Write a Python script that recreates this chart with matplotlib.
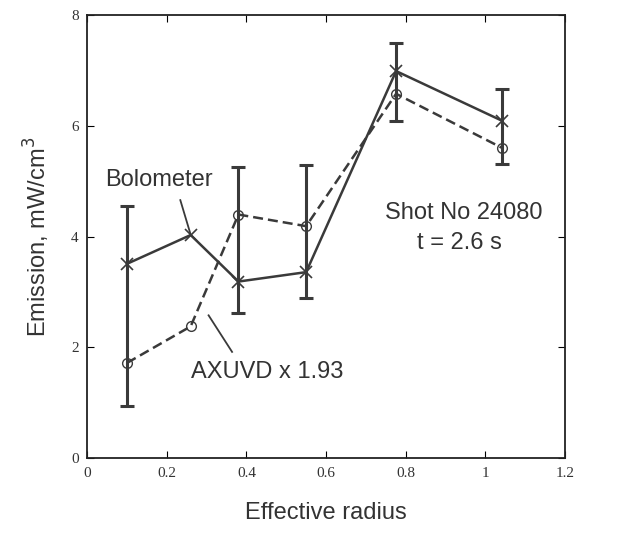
import numpy as np
import matplotlib
matplotlib.use("Agg")
import matplotlib.pyplot as plt

# values
radius = [0.10, 0.26, 0.38, 0.55, 0.776, 1.043]
bolometer = [3.51, 4.03, 3.19, 3.36, 6.99, 6.09]
axuvd = [1.72, 2.38, 4.40, 4.19, 6.58, 5.60]

# error bars drawn on the bolometer points (no bar at r=0.26)
err_r = [0.10, 0.38, 0.55, 0.776, 1.043]
err_top = [4.55, 5.26, 5.29, 7.50, 6.67]
err_bottom = [0.94, 2.63, 2.89, 6.08, 5.31]

x_ticks = [0, 0.2, 0.4, 0.6, 0.8, 1, 1.2]
x_ticklabels = ['0', '0.2', '0.4', '0.6', '0.8', '1', '1.2']
y_ticks = [0, 2, 4, 6, 8]


def main():
    fig = plt.figure(figsize=(6.27, 5.41), dpi=100)
    ax = fig.add_axes([0.139, 0.153, 0.762, 0.819])

    ink = '#3a3a3a'
    sans = 'Liberation Sans'

    ax.plot(radius, bolometer, '-', color=ink, lw=1.8, marker='x', ms=8, mew=1.2)
    ax.plot(radius, axuvd, '--', color=ink, lw=1.8, marker='o', ms=7,
            mfc='none', mew=1.0, dashes=(4, 2))

    centre = np.array([bolometer[radius.index(r)] for r in err_r])
    lower = centre - np.array(err_bottom)
    upper = np.array(err_top) - centre
    ax.errorbar(err_r, centre, yerr=[lower, upper], fmt='none', ecolor=ink,
                elinewidth=2.2, capsize=5, capthick=2.2)

    ax.set_xlim(0, 1.2)
    ax.set_ylim(0, 8)
    ax.set_xticks(x_ticks)
    ax.set_xticklabels(x_ticklabels)
    ax.set_yticks(y_ticks)
    ax.tick_params(direction='in', top=True, right=True, length=5,
                   labelsize=11, pad=6)
    for lab in ax.get_xticklabels() + ax.get_yticklabels():
        lab.set_family('Liberation Serif')
        lab.set_color('#333333')
    for sp in ax.spines.values():
        sp.set_linewidth(1.3)
        sp.set_color('#222222')

    ax.set_xlabel('Effective radius', fontsize=17, family=sans, color='#333333',
                  labelpad=16)
    ax.set_ylabel('Emission, mW/cm$^3$', fontsize=17, family=sans,
                  color='#333333', labelpad=14)

    ax.text(0.18, 5.02, 'Bolometer', fontsize=17, family=sans, color='#333333',
            ha='center', va='center')
    ax.plot([0.234, 0.259], [4.66, 4.06], color=ink, lw=1.3)

    ax.text(0.452, 1.56, 'AXUVD x 1.93', fontsize=17, family=sans,
            color='#333333', ha='center', va='center')
    ax.plot([0.305, 0.364], [2.58, 1.92], color=ink, lw=1.3)

    ax.text(0.946, 4.42, 'Shot No 24080', fontsize=17, family=sans,
            color='#333333', ha='center', va='center')
    ax.text(0.935, 3.89, 't = 2.6 s', fontsize=17, family=sans,
            color='#333333', ha='center', va='center')

    fig.savefig('out.png', dpi=100)


if __name__ == "__main__":
    main()
